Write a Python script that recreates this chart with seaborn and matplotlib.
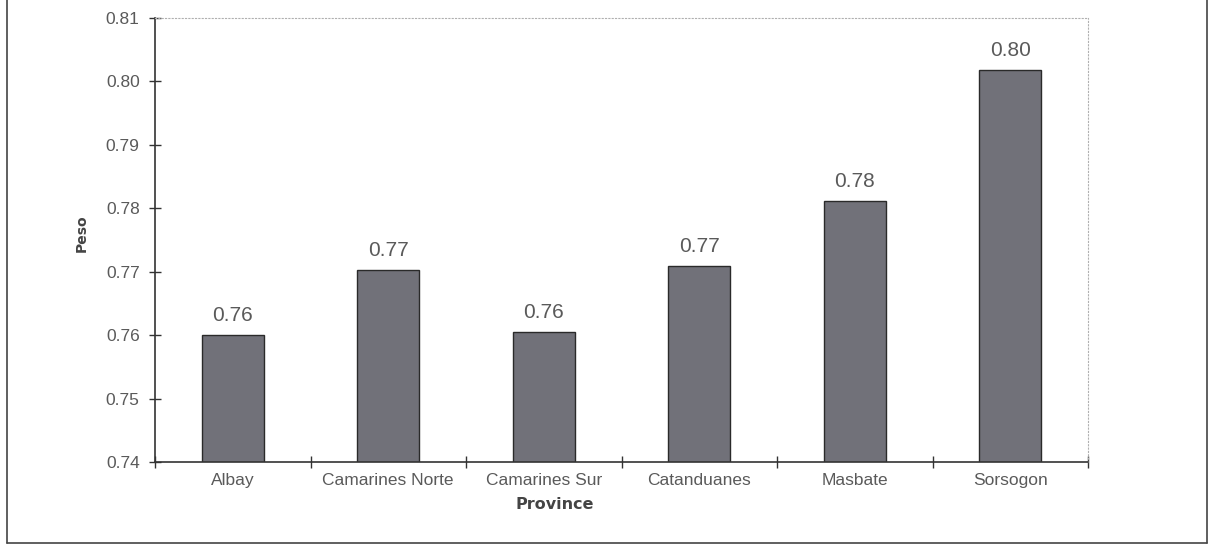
import matplotlib
matplotlib.use("Agg")
import matplotlib.pyplot as plt
import numpy as np
import pandas as pd
import seaborn as sns
from matplotlib.lines import Line2D
from matplotlib.ticker import FixedLocator, NullFormatter


PROVINCES = ["Albay", "Camarines Norte", "Camarines Sur", "Catanduanes", "Masbate", "Sorsogon"]
PESO = [0.7600, 0.7703, 0.7605, 0.7709, 0.7812, 0.8018]
Y_TICKS = [0.74, 0.75, 0.76, 0.77, 0.78, 0.79, 0.80, 0.81]


def main():
    df = pd.DataFrame({"Province": PROVINCES, "Peso": PESO})

    sns.set_theme(style="white")
    plt.rcParams["font.family"] = ["Liberation Sans", "DejaVu Sans"]

    fig = plt.figure(figsize=(12.13, 5.51), dpi=100)
    ax = fig.add_axes([155 / 1213, 1 - 462 / 551, 933 / 1213, 444 / 551])

    sns.barplot(
        data=df,
        x="Province",
        y="Peso",
        color="#717179",
        edgecolor="#2a2a2a",
        linewidth=1.0,
        width=0.40,
        saturation=1,
        ax=ax,
    )

    ax.set_ylim(0.74, 0.81)
    ax.set_xlim(-0.5, len(PROVINCES) - 0.5)
    ax.set_yticks(Y_TICKS)
    ax.set_yticklabels([f"{v:.2f}" for v in Y_TICKS])
    ax.tick_params(axis="y", direction="inout", length=8, width=1, color="#333333",
                   labelsize=12.5, labelcolor="#5a5a5a", pad=7, left=True)

    # x ticks sit between the categories
    ax.xaxis.set_minor_locator(FixedLocator(np.arange(-0.5, len(PROVINCES), 1.0)))
    ax.xaxis.set_minor_formatter(NullFormatter())
    ax.tick_params(axis="x", which="major", length=0, labelsize=12.5, labelcolor="#5a5a5a", pad=8)
    ax.tick_params(axis="x", which="minor", direction="inout", length=8, width=1,
                   color="#333333", bottom=True)

    for side in ["left", "bottom"]:
        ax.spines[side].set_color("#333333")
        ax.spines[side].set_linewidth(1.2)
    for side in ["top", "right"]:
        ax.spines[side].set_color("#b0b0b0")
        ax.spines[side].set_linewidth(0.8)
        ax.spines[side].set_linestyle((0, (1, 2)))

    ax.bar_label(ax.containers[0], labels=[f"{v:.2f}" for v in PESO],
                 padding=7, fontsize=15, color="#5a5a5a")

    ax.set_xlabel("Province", fontsize=11.5, fontweight="bold", color="#444444",
                  family=["DejaVu Sans"])
    ax.xaxis.set_label_coords((555 - 155) / 933, -(497 - 462) / 444)
    ax.set_ylabel("Peso", fontsize=10, fontweight="bold", color="#444444",
                  family=["DejaVu Sans"])
    ax.yaxis.set_label_coords((89 - 155) / 933, (462 - 233) / 444)

    # outer frame around the chart
    frame_kw = dict(transform=fig.transFigure, color="#444444", linewidth=1.2)
    x0, x1 = 7 / 1213, 1207 / 1213
    yb = 1 - 543 / 551
    fig.add_artist(Line2D([x0, x0], [yb, 1], **frame_kw))
    fig.add_artist(Line2D([x1, x1], [yb, 1], **frame_kw))
    fig.add_artist(Line2D([x0, x1], [yb, yb], **frame_kw))

    fig.savefig("out.png", dpi=100)


if __name__ == "__main__":
    main()
